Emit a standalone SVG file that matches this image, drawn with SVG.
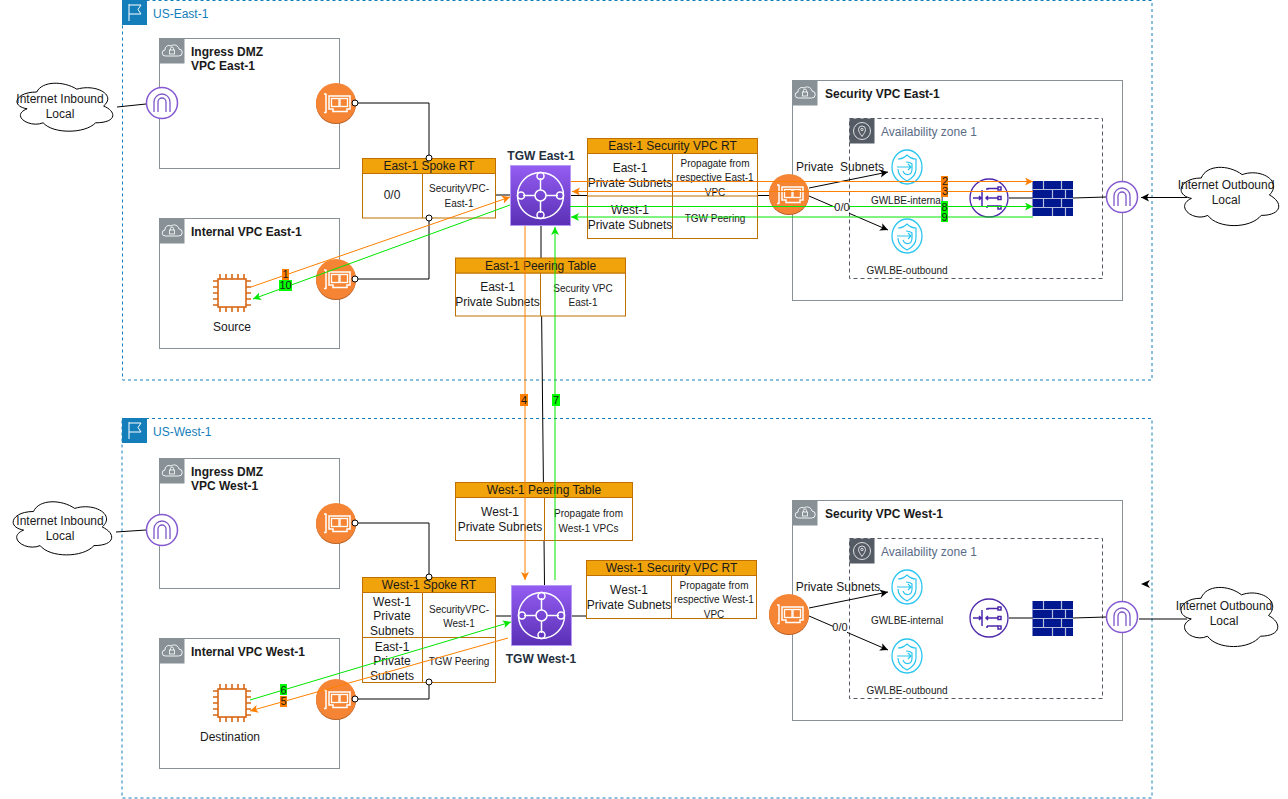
<svg xmlns="http://www.w3.org/2000/svg" xmlns:xlink="http://www.w3.org/1999/xlink" width="1288" height="799" viewBox="0 0 1288 799">
<style>
text{font-family:"Liberation Sans",Arial,sans-serif;font-size:12px;fill:#1a1a1a}
.c{text-anchor:middle}
.b{font-weight:bold}
.s{font-size:10px}
.m{font-size:11px}
.pre{white-space:pre}
.region{fill:none;stroke:#147EBA;stroke-dasharray:3 3}
.rl{fill:#147EBA}
.vpc{fill:#fff;stroke:#879196}
.az{fill:none;stroke:#545B64;stroke-dasharray:4 3}
.azl{fill:#5A6B86}
.hdr{fill:#F0A30A;stroke:#BD7000}
.cell{fill:#fff;stroke:#BD7000}
.k{fill:none;stroke:#000}
.o{fill:none;stroke:#FF8000;marker-end:url(#ao)}
.on{fill:none;stroke:#FF8000}
.g{fill:none;stroke:#00E600;marker-end:url(#ag)}
.gn{fill:none;stroke:#00E600}
.ka{fill:none;stroke:#000;marker-end:url(#ak)}
.cloud{fill:#fff;stroke:#000;vector-effect:non-scaling-stroke}
.dot{fill:#fff;stroke:#000}
</style>
<defs>
<marker id="ao" markerWidth="10" markerHeight="10" refX="8" refY="4" orient="auto" markerUnits="userSpaceOnUse"><path d="M0 0L8 4L0 8L2 4Z" fill="#FF8000"/></marker>
<marker id="ag" markerWidth="10" markerHeight="10" refX="8" refY="4" orient="auto" markerUnits="userSpaceOnUse"><path d="M0 0L8 4L0 8L2 4Z" fill="#00E600"/></marker>
<marker id="ak" markerWidth="10" markerHeight="10" refX="8" refY="4" orient="auto" markerUnits="userSpaceOnUse"><path d="M0 0L8 4L0 8L2 4Z" fill="#000"/></marker>
<linearGradient id="tg" x1="0" y1="0" x2="0" y2="1"><stop offset="0" stop-color="#945DF2"/><stop offset="1" stop-color="#5A30B5"/></linearGradient>
<g id="vpcTag"><rect width="25" height="25" fill="#879196"/><path d="M6 17.5a3 3 0 0 1-.5-6a4 4 0 0 1 6-4a5 5 0 0 1 8 3a3.5 3.5 0 0 1-.5 7Z" fill="none" stroke="#fff" stroke-width=".9"/><rect x="10" y="11.5" width="5" height="4" fill="none" stroke="#fff" stroke-width=".8"/><path d="M11 11.5v-1.5a1.500 1.500 0 0 1 3 0v1.500" fill="none" stroke="#fff" stroke-width=".8"/></g>
<g id="azTag"><rect width="25" height="25" fill="#545B64"/><circle cx="12.500" cy="12.500" r="8.500" fill="none" stroke="#fff" stroke-width=".8"/><path d="M12.500 18c-2-3-3.500-5-3.500-7a3.500 3.500 0 0 1 7 0c0 2-1.500 4-3.500 7Z" fill="none" stroke="#fff" stroke-width=".8"/><circle cx="12.500" cy="11" r="1.200" fill="none" stroke="#fff" stroke-width=".8"/></g>
<g id="flag"><rect width="25" height="25" fill="#147EBA"/><path d="M7 21V4M7 5H19L16 9.500L19 14H7" fill="none" stroke="#fff"/></g>
<g id="eni"><circle cy="1" r="20" fill="#B85F25"/><circle r="20" fill="#F58534"/><path d="M-12-9h2.500M-12 9.500h2.500M-10-9V9.500" stroke="#fff" stroke-width="1.500" fill="none"/><path d="M-7-7H14V6H11V8.500H-3V6H-7Z" fill="none" stroke="#fff" stroke-width="1.500"/><rect x="-4.500" y="-4.500" width="7.500" height="8" fill="none" stroke="#fff" stroke-width="1.300"/><rect x="4" y="-4.500" width="7.500" height="8" fill="none" stroke="#fff" stroke-width="1.300"/></g>
<g id="igw"><circle r="15.500" fill="#fff" stroke="#8458D0" stroke-width="1.500"/><path d="M-8 9V-1a8 8 0 0 1 16 0V9M-4 9V-1a4 4 0 0 1 8 0V9" fill="none" stroke="#7E57C8" stroke-width="1.300"/></g>
<g id="gwlb"><circle r="19" fill="#fff" stroke="#4D27AA" stroke-width="1.300"/><g fill="none" stroke="#4D27AA" stroke-width="1.500"><path d="M-16 0h7M-7-8V8M9 0H-3M-1-2-3 0-1 2M-10-2-8 0-10 2M-3-9H-1V-9.500H9M-3 9H-1V9M-2 8H9"/><rect x="9" y="-11" width="3" height="3"/><rect x="9" y="-1.500" width="3" height="3"/><rect x="9" y="8" width="3" height="3"/></g></g>
<g id="gwlbe"><ellipse rx="15" ry="17" fill="#fff" stroke="#2BC6F0" stroke-width="1.300"/><g fill="none" stroke="#2BC6F0" stroke-width="1.200"><path d="M-9-8C-4-8-2-10 0-12C2-10 5-8 9-8V2C9 8 4 12 0 14C-4 12-9 8-9 2"/><path d="M-10 0H4M1-3 4 0 1 3"/><path d="M-4 4C-2 9 5 9 5 2V-3C3-5 1-5-1-5"/></g></g>
<g id="fw"><rect width="40.500" height="35" fill="#00188F"/><g stroke="#B6BEDC" stroke-width="1.200"><path d="M0 8.500H40.500M0 17.500H40.500M0 26.500H40.500"/><path d="M11 0V8.500M29 0V8.500M20 8.500V17.500M33 8.500V17.500M11 17.500V26.500M29 17.500V26.500M20 26.500V35M33 26.500V35"/></g></g>
<g id="chip"><g stroke="#D86613" stroke-width="1.600"><path d="M-12-19v38M-6-19v38M0-19v38M6-19v38M12-19v38M-19-12h38M-19-6h38M-19 0h38M-19 6h38M-19 12h38"/></g><rect x="-14" y="-14" width="28" height="28" fill="#fff" stroke="#D86613" stroke-width="1.600"/></g>
<g id="tgw"><rect x=".5" y=".5" width="60" height="60" fill="url(#tg)" stroke="#B79AF5"/><g fill="none" stroke="#fff" stroke-width="1.500"><circle cx="30.500" cy="30.500" r="23"/><circle cx="30.500" cy="30.500" r="5.500"/><path d="M30.500 13V25M30.500 36V48M13 30.500H25M36 30.500H48"/><circle cx="30.500" cy="11" r="3.500"/><circle cx="30.500" cy="50" r="3.500"/><circle cx="11" cy="30.500" r="3.500"/><circle cx="50" cy="30.500" r="3.500"/></g></g>
<path id="cloudP" class="cloud" d="M.25 .25C.05 .25 0 .5 .16 .55C0 .67 .18 .9 .31 .8C.4 1 .7 1 .8 .8C1 .8 1 .6 .875 .5C1 .3 .8 .1 .625 .2C.5 .05 .3 .05 .25 .25Z"/>
<clipPath id="c1"><rect x="673" y="154" width="84" height="42"/></clipPath>
<clipPath id="c2"><rect x="672" y="576" width="84" height="42"/></clipPath>
</defs>
<rect width="1288" height="799" fill="#fff"/>

<g id="region-east"><rect class="region" x="122.500" y=".5" width="1029.500" height="379.500"/><use href="#flag" x="122" y="0"/><text class="rl" x="153" y="18">US-East-1</text></g>
<g id="region-west"><rect class="region" x="122" y="418.500" width="1030" height="379.500"/><use href="#flag" x="122" y="418"/><text class="rl" x="153" y="436">US-West-1</text></g>

<g id="vpc-ingress-east"><rect class="vpc" x="159.500" y="38.500" width="180" height="130"/><use href="#vpcTag" x="159.500" y="38.500"/><text class="b" x="191" y="56">Ingress DMZ</text><text class="b" x="191" y="70">VPC East-1</text></g>
<g id="vpc-internal-east"><rect class="vpc" x="159.500" y="218.500" width="180" height="130"/><use href="#vpcTag" x="159.500" y="218.500"/><text class="b" x="191" y="236">Internal VPC East-1</text></g>
<g id="vpc-security-east"><rect class="vpc" x="792.500" y="80.500" width="330" height="220"/><use href="#vpcTag" x="792.500" y="80.500"/><text class="b" x="825" y="98">Security VPC East-1</text></g>
<g id="az-east"><rect class="az" x="849.500" y="118.500" width="253" height="160"/><use href="#azTag" x="849.500" y="118.500"/><text class="azl" x="881" y="136">Availability zone 1</text></g>
<g id="vpc-ingress-west"><rect class="vpc" x="159.500" y="458.500" width="180" height="130"/><use href="#vpcTag" x="159.500" y="458.500"/><text class="b" x="191" y="476">Ingress DMZ</text><text class="b" x="191" y="490">VPC West-1</text></g>
<g id="vpc-internal-west"><rect class="vpc" x="159.500" y="638.500" width="180" height="130"/><use href="#vpcTag" x="159.500" y="638.500"/><text class="b" x="191" y="656">Internal VPC West-1</text></g>
<g id="vpc-security-west"><rect class="vpc" x="792.500" y="500.500" width="330" height="220"/><use href="#vpcTag" x="792.500" y="500.500"/><text class="b" x="825" y="518">Security VPC West-1</text></g>
<g id="az-west"><rect class="az" x="849.500" y="538.500" width="253" height="160"/><use href="#azTag" x="849.500" y="538.500"/><text class="azl" x="881" y="556">Availability zone 1</text></g>

<g id="connectors-base">
<path class="k" d="M355 103H429V158"/>
<path class="k" d="M355 279H429V218"/>
<path class="k" d="M355 523H429V577"/>
<path class="k" d="M355 699H429V682"/>
<path class="k" d="M495 195H510"/>
<path class="k" d="M571 195.500H770"/>
<path class="k" d="M541 226V257M541 257L544.500 585"/>
<path class="k" d="M495 616H511"/>
<path class="k" d="M572 616H587"/>
<path class="k" d="M117 107L146 104"/>
<path class="k" d="M116 532L146 530"/>
<path class="k" d="M1009 198H1033"/>
<path class="k" d="M1073 198L1106 197"/>
<path class="k" d="M1009 618H1033"/>
<path class="k" d="M1073 618L1106 617"/>
<path class="k" d="M1139 619H1187"/>
<path class="ka" d="M1187 197.500H1141"/>
<path d="M1141 584L1150 580L1147.500 584L1150 588Z" fill="#000"/>
<path class="ka" d="M809 188L888 172"/>
<path class="ka" d="M809 196L888 230"/>
<path class="ka" d="M809 608L888 592"/>
<path class="ka" d="M809 616L888 650"/>
</g>

<g id="table-east-spoke"><rect class="cell" x="362.500" y="173.500" width="133" height="44.500"/><path class="k" style="stroke:#BD7000" d="M422.500 173.500V218"/><rect class="hdr" x="362.500" y="158.500" width="133" height="15"/><text class="c" x="429" y="170">East-1 Spoke RT</text><text class="c" x="392" y="199">0/0</text><text class="c s" x="459" y="192">SecurityVPC-</text><text class="c s" x="459" y="207">East-1</text></g>
<g id="table-east-security"><rect class="cell" x="587.500" y="153.500" width="170" height="85"/><path class="k" style="stroke:#BD7000" d="M672.500 153.500V238.500M587.500 196H757.500"/><rect class="hdr" x="587.500" y="138.500" width="170" height="15"/><text class="c" x="672.500" y="150">East-1 Security VPC RT</text><text class="c" x="630" y="172">East-1</text><text class="c" x="630" y="187">Private Subnets</text><text class="c" x="630" y="214">West-1</text><text class="c" x="630" y="229">Private Subnets</text><text class="c s" x="715" y="167">Propagate from</text><text class="c s" x="715" y="181">respective East-1</text><text class="c s" x="715" y="196" clip-path="url(#c1)">VPC</text><text class="c s" x="715" y="222">TGW Peering</text></g>
<g id="table-east-peering"><rect class="cell" x="455.500" y="273" width="170" height="43"/><path class="k" style="stroke:#BD7000" d="M540.500 273V316"/><rect class="hdr" x="455.500" y="258" width="170" height="15"/><text class="c" x="540.500" y="270">East-1 Peering Table</text><text class="c" x="497.500" y="291">East-1</text><text class="c" x="497.500" y="306">Private Subnets</text><text class="c s" x="583" y="292">Security VPC</text><text class="c s" x="583" y="306">East-1</text></g>
<g id="table-west-peering"><rect class="cell" x="455.500" y="497.500" width="177" height="43"/><path class="k" style="stroke:#BD7000" d="M544.500 497.500V540.500"/><rect class="hdr" x="455.500" y="482.500" width="177" height="15"/><text class="c" x="544" y="494">West-1 Peering Table</text><text class="c" x="500" y="516">West-1</text><text class="c" x="500" y="531">Private Subnets</text><text class="c s" x="588.500" y="517">Propagate from</text><text class="c s" x="588.500" y="532">West-1 VPCs</text></g>
<g id="table-west-security"><rect class="cell" x="586.500" y="575.500" width="170" height="43"/><path class="k" style="stroke:#BD7000" d="M671.500 575.500V618.500"/><rect class="hdr" x="586.500" y="560.500" width="170" height="15"/><text class="c" x="671.500" y="572">West-1 Security VPC RT</text><text class="c" x="629" y="594">West-1</text><text class="c" x="629" y="609">Private Subnets</text><text class="c s" x="714" y="589">Propagate from</text><text class="c s" x="714" y="603">respective West-1</text><text class="c s" x="714" y="618" clip-path="url(#c2)">VPC</text></g>
<g id="table-west-spoke"><rect class="cell" x="362.500" y="592.500" width="133" height="90"/><path class="k" style="stroke:#BD7000" d="M422.500 592.500V682.500M362.500 637.500H495.500"/><rect class="hdr" x="362.500" y="577.500" width="133" height="15"/><text class="c" x="429" y="589">West-1 Spoke RT</text><text class="c" x="392" y="606">West-1</text><text class="c" x="392" y="620">Private</text><text class="c" x="392" y="635">Subnets</text><text class="c" x="392" y="651">East-1</text><text class="c" x="392" y="665">Private</text><text class="c" x="392" y="680">Subnets</text><text class="c s" x="459" y="613">SecurityVPC-</text><text class="c s" x="459" y="627">West-1</text><text class="c s" x="459" y="665">TGW Peering</text></g>

<g id="cloud-in-east"><use href="#cloudP" transform="translate(10 78) scale(107 56)"/><text class="c" x="60" y="103">Internet Inbound</text><text class="c" x="60" y="118">Local</text></g>
<g id="cloud-out-east"><use href="#cloudP" transform="translate(1174 161) scale(109 68)"/><text class="c" x="1226" y="189">Internet Outbound</text><text class="c" x="1226" y="204">Local</text></g>
<g id="cloud-in-west"><use href="#cloudP" transform="translate(6 496) scale(110 62)"/><text class="c" x="60" y="525">Internet Inbound</text><text class="c" x="60" y="540">Local</text></g>
<g id="cloud-out-west"><use href="#cloudP" transform="translate(1174 581) scale(108 69)"/><text class="c" x="1224" y="610">Internet Outbound</text><text class="c" x="1224" y="625">Local</text></g>

<g id="igw-in-east"><use href="#igw" x="162" y="103"/></g>
<g id="igw-in-west"><use href="#igw" x="162" y="530"/></g>
<g id="igw-out-east"><use href="#igw" x="1122" y="197"/></g>
<g id="igw-out-west"><use href="#igw" x="1122" y="617"/></g>
<g id="eni-ingress-east"><use href="#eni" x="336" y="103"/></g>
<g id="eni-internal-east"><use href="#eni" x="336" y="279"/></g>
<g id="eni-security-east"><use href="#eni" x="789" y="194"/></g>
<g id="eni-ingress-west"><use href="#eni" x="336" y="523"/></g>
<g id="eni-internal-west"><use href="#eni" x="336" y="699"/></g>
<g id="eni-security-west"><use href="#eni" x="789" y="614"/></g>
<g id="source"><use href="#chip" x="232" y="293"/><text class="c" x="232" y="331">Source</text></g>
<g id="destination"><use href="#chip" x="232" y="703"/><text class="c" x="230" y="741">Destination</text></g>
<g id="tgw-east"><use href="#tgw" x="510" y="165"/><text class="c b" x="541" y="160" style="fill:#232F3E">TGW East-1</text></g>
<g id="tgw-west"><use href="#tgw" x="511" y="585"/><text class="c b" x="541" y="663" style="fill:#232F3E">TGW West-1</text></g>
<g id="gwlbe-internal-east"><use href="#gwlbe" x="907" y="167"/><text class="c s" x="907" y="204">GWLBE-internal</text></g>
<g id="gwlbe-outbound-east"><use href="#gwlbe" x="907" y="236"/><text class="c s" x="907" y="274">GWLBE-outbound</text></g>
<g id="gwlbe-internal-west"><use href="#gwlbe" x="907" y="587"/><text class="c s" x="907" y="624">GWLBE-internal</text></g>
<g id="gwlbe-outbound-west"><use href="#gwlbe" x="907" y="656"/><text class="c s" x="907" y="694">GWLBE-outbound</text></g>
<g id="gwlb-east"><use href="#gwlb" x="989" y="198"/></g>
<g id="gwlb-west"><use href="#gwlb" x="989" y="618"/></g>
<g id="firewall-east"><use href="#fw" x="1032.500" y="181"/></g>
<g id="firewall-west"><use href="#fw" x="1032.500" y="601"/></g>

<g id="connectors">
<path class="o" d="M251 287L510 197"/>
<path class="g" d="M510 205L253 299"/>
<path class="o" d="M525 226V580"/>
<path class="g" d="M555 580V227"/>
<path class="o" d="M571 181.500H1033"/>
<path class="o" d="M1033 191.500H572"/>
<path class="g" d="M570 206.500H1033"/>
<path class="g" d="M1033 217H571"/>
<path class="g" d="M250 700L511 622"/>
<path class="o" d="M508 638L250 711"/>
<circle class="dot" cx="355" cy="103" r="3"/><circle class="dot" cx="429" cy="158" r="3"/>
<circle class="dot" cx="355" cy="279" r="3"/><circle class="dot" cx="429" cy="218" r="3"/>
<circle class="dot" cx="355" cy="523" r="3"/><circle class="dot" cx="429" cy="577" r="3"/>
<circle class="dot" cx="355" cy="699" r="3"/><circle class="dot" cx="429" cy="682" r="3"/>
<rect x="835" y="201" width="14" height="13" fill="#fff"/><text class="c m" x="842" y="211">0/0</text>
<rect x="833" y="621" width="14" height="13" fill="#fff"/><text class="c m" x="840" y="631">0/0</text>
<text class="c pre" x="840" y="171">Private  Subnets</text>
<text class="c" x="838" y="591">Private Subnets</text>
<g class="m">
<rect x="282" y="269" width="7" height="11" fill="#FF8000"/><text class="c m" x="285.500" y="278">1</text>
<rect x="279" y="280" width="13" height="11" fill="#00FF00"/><text class="c m" x="285.500" y="289">10</text>
<rect x="941" y="176" width="7" height="11" fill="#FF8000"/><text class="c m" x="945" y="185">2</text>
<rect x="941" y="186" width="7" height="11" fill="#FF8000"/><text class="c m" x="945" y="195">3</text>
<rect x="941" y="201" width="7" height="11" fill="#00FF00"/><text class="c m" x="944.500" y="211">8</text>
<rect x="941" y="211" width="7" height="11" fill="#00FF00"/><text class="c m" x="944.500" y="221">9</text>
<rect x="520" y="394" width="8" height="12" fill="#FF8000"/><text class="c m" x="524" y="404">4</text>
<rect x="552" y="394" width="8" height="12" fill="#00FF00"/><text class="c m" x="556" y="404">7</text>
<rect x="280" y="684" width="7" height="11" fill="#00FF00"/><text class="c m" x="283.500" y="694">6</text>
<rect x="280" y="696" width="7" height="11" fill="#FF8000"/><text class="c m" x="283.500" y="705">5</text>
</g>
</g>
</svg>
